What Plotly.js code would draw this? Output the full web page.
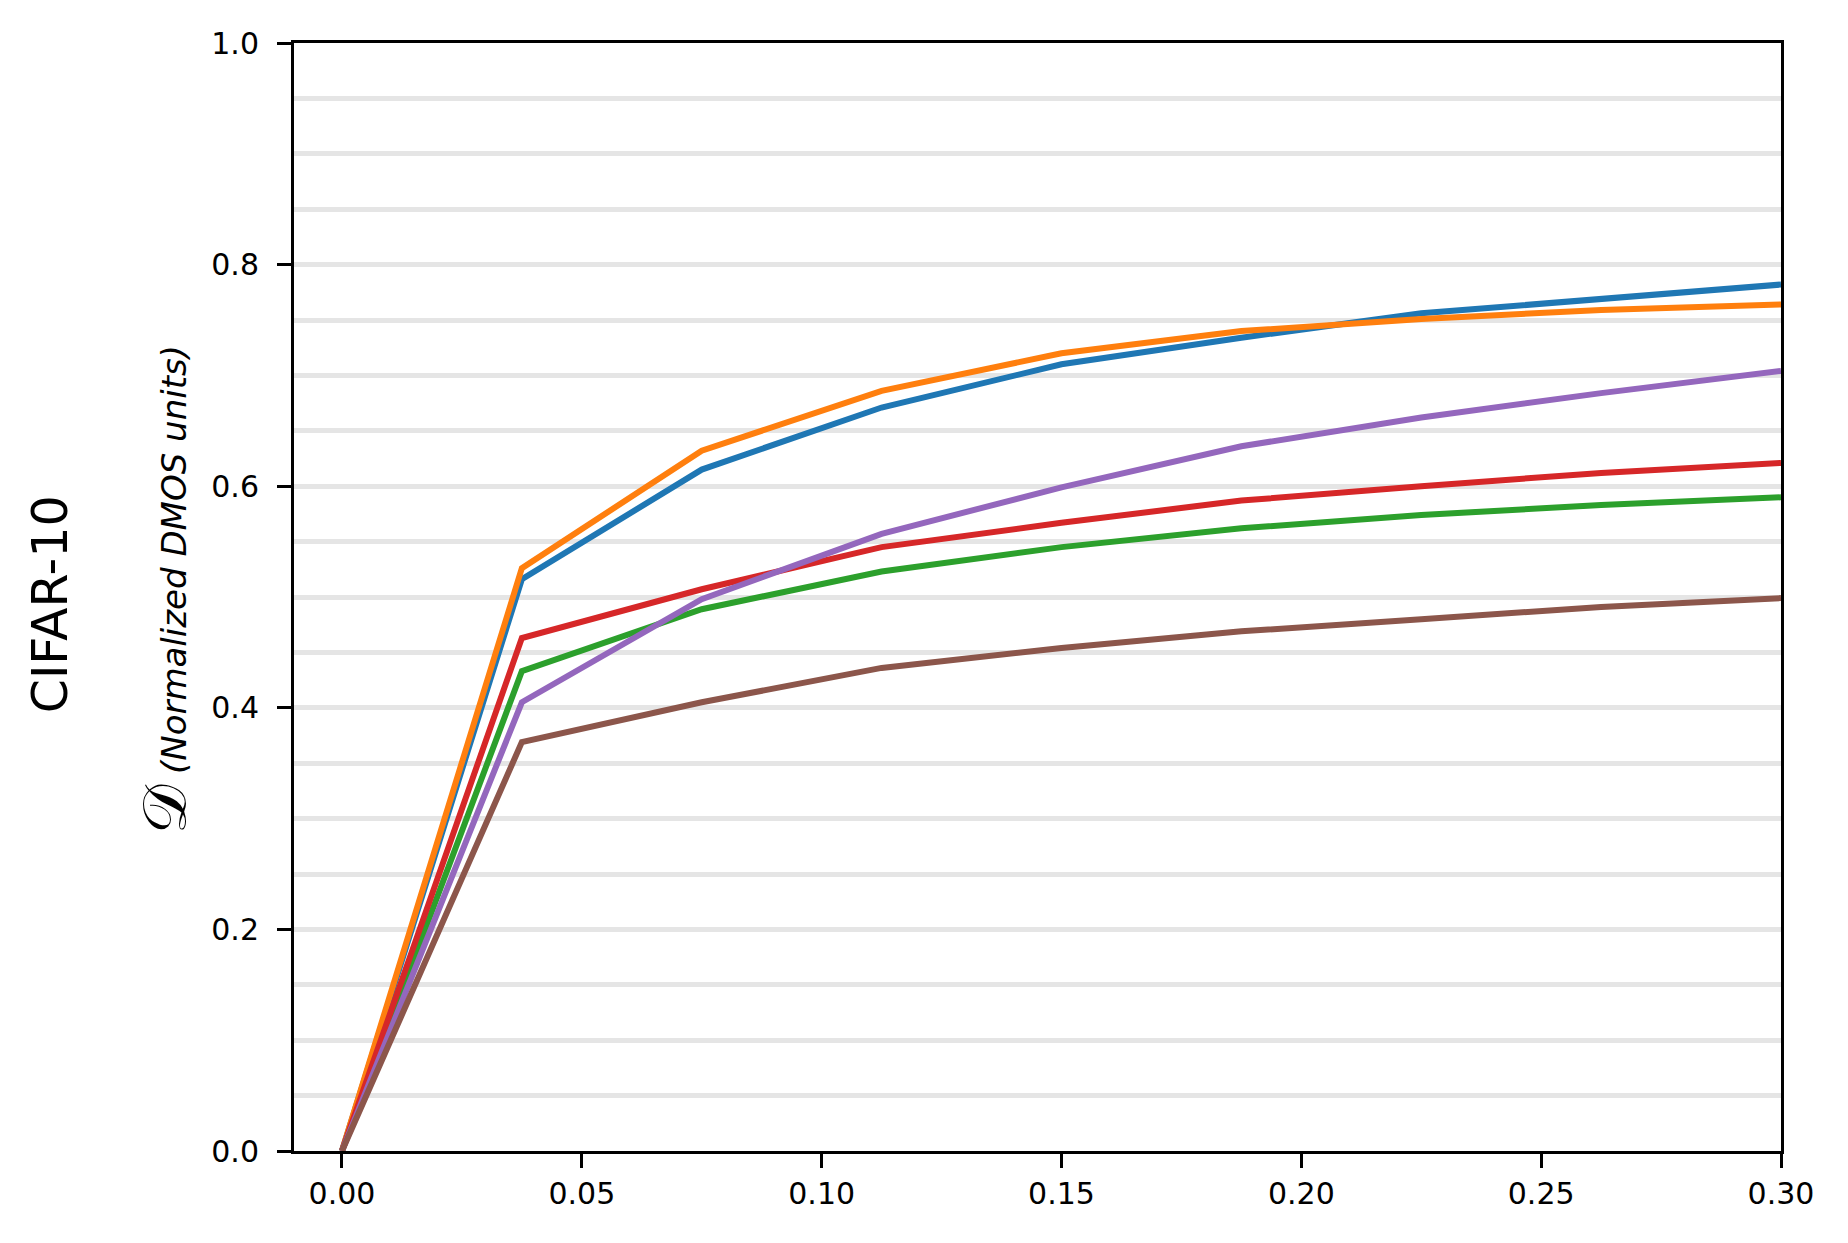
<!DOCTYPE html>
<html>
<head>
<meta charset="utf-8">
<script src="https://cdn.plot.ly/plotly-3.0.1.min.js"></script>
<style>html,body{margin:0;padding:0;background:#fff;}#chart{width:1848px;height:1243px;}</style>
</head>
<body>
<div id="chart"></div>
<script>
// x positions (fraction)
const xValues = [0, 0.0375, 0.075, 0.1125, 0.15, 0.1875, 0.225, 0.2625, 0.3];

// series values (normalized DMOS units)
const seriesBlue   = [0, 0.516, 0.615, 0.671, 0.710, 0.734, 0.756, 0.769, 0.782];
const seriesOrange = [0, 0.526, 0.632, 0.686, 0.720, 0.740, 0.751, 0.759, 0.764];
const seriesGreen  = [0, 0.433, 0.489, 0.523, 0.545, 0.562, 0.574, 0.583, 0.590];
const seriesRed    = [0, 0.463, 0.507, 0.545, 0.567, 0.587, 0.600, 0.612, 0.621];
const seriesPurple = [0, 0.405, 0.498, 0.557, 0.599, 0.636, 0.662, 0.684, 0.704];
const seriesBrown  = [0, 0.369, 0.405, 0.436, 0.454, 0.469, 0.480, 0.491, 0.499];

const seriesList = [seriesBlue, seriesOrange, seriesGreen, seriesRed, seriesPurple, seriesBrown];
const colors = ['#1f77b4', '#ff7f0e', '#2ca02c', '#d62728', '#9467bd', '#8c564b'];

const xTickVals = [0, 0.05, 0.1, 0.15, 0.2, 0.25, 0.3];
const xTickText = ['0.00', '0.05', '0.10', '0.15', '0.20', '0.25', '0.30'];
const yTickVals = [0, 0.2, 0.4, 0.6, 0.8, 1.0];
const yTickText = ['0.0', '0.2', '0.4', '0.6', '0.8', '1.0'];

const rowLabel = 'CIFAR-10';
const yTitleMain = '𝒟';
const yTitleSub = '(Normalized DMOS units)';

const traces = seriesList.map((ys, i) => ({
  x: xValues, y: ys, type: 'scatter', mode: 'lines',
  line: {color: colors[i], width: 6},
  showlegend: false, hoverinfo: 'skip'
}));

const tickFont = {family: 'DejaVu Sans', size: 30, color: '#000'};

const layout = {
  width: 1848, height: 1243,
  paper_bgcolor: '#fff', plot_bgcolor: '#fff',
  margin: {l: 294, r: 67, t: 43, b: 92, pad: 0},
  xaxis: {
    range: [-0.01, 0.30], tickvals: xTickVals, ticktext: xTickText,
    ticks: 'outside', ticklen: 14, tickwidth: 3, tickcolor: '#000',
    tickfont: tickFont, showgrid: false, zeroline: false,
    showline: true, linecolor: '#000', linewidth: 3, mirror: true
  },
  yaxis: {
    range: [0, 1], tickvals: yTickVals, ticktext: yTickText,
    ticks: 'outside', ticklen: 14, tickwidth: 3, tickcolor: '#000',
    tickfont: tickFont, ticklabelstandoff: 12,
    showgrid: true, gridcolor: '#e5e5e5', gridwidth: 5, zeroline: false,
    showline: true, linecolor: '#000', linewidth: 3, mirror: true,
    minor: {dtick: 0.05, tick0: 0, showgrid: true, gridcolor: '#e5e5e5', gridwidth: 5, ticks: ''}
  },
  annotations: [
    {
      xref: 'paper', yref: 'paper', x: -0.164, y: 0.4935,
      xanchor: 'center', yanchor: 'middle', textangle: -90, showarrow: false,
      text: rowLabel, font: {family: 'DejaVu Sans', size: 49, color: '#000'}
    },
    {
      xref: 'paper', yref: 'paper', x: -0.087, y: 0.507,
      xanchor: 'center', yanchor: 'middle', textangle: -90, showarrow: false,
      text: '<span style="font-family:DejaVu Serif;font-size:62px">' + yTitleMain + '</span> <i>' + yTitleSub + '</i>',
      font: {family: 'DejaVu Sans', size: 34, color: '#000'}
    }
  ]
};

Plotly.newPlot('chart', traces, layout, {staticPlot: true, displayModeBar: false});
</script>
</body>
</html>
